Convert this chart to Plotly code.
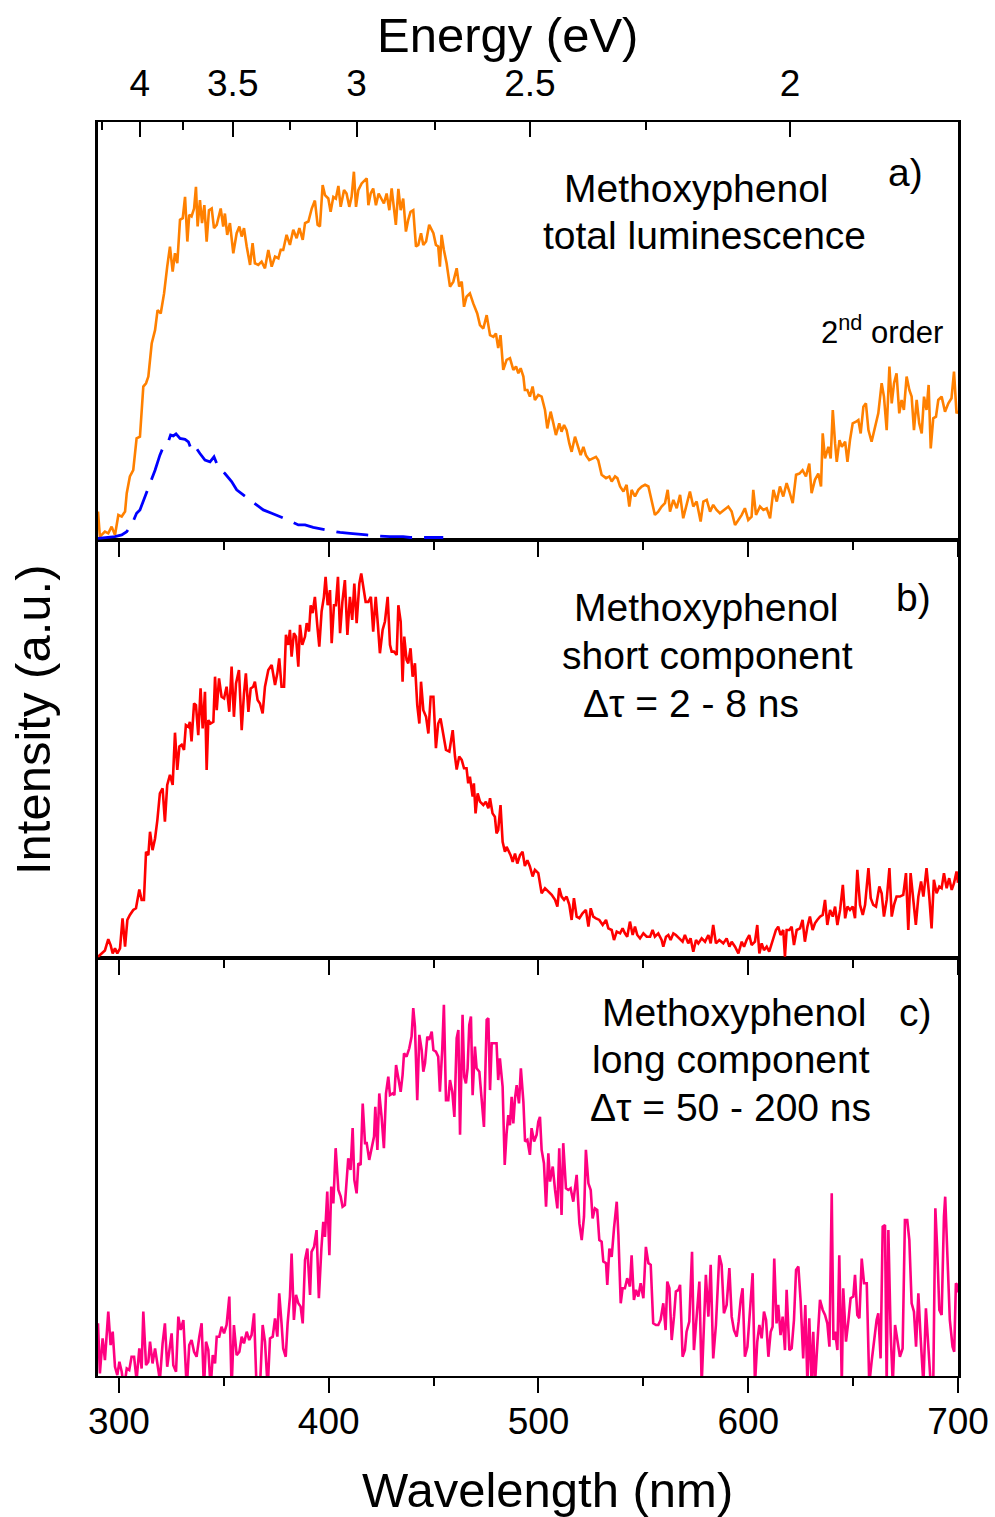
import plotly.graph_objects as go

# ---------------- data ----------------
# a) total luminescence (orange)
wl_total = [
    290.0, 290.9, 293.3, 294.9, 296.5, 298.1, 299.7, 301.3, 302.9, 303.7,
    305.2, 306.8, 308.4, 310.0, 311.6, 312.9, 314.0, 315.6, 317.2, 318.4,
    319.9, 321.5, 323.0, 324.3, 325.6, 326.7, 327.8, 329.1, 330.4, 331.5,
    332.6, 333.5, 334.6, 335.8, 336.7, 337.5, 338.6, 339.6, 340.7, 341.8,
    342.9, 344.2, 345.3, 346.6, 348.5, 349.7, 350.5, 351.6, 352.9, 354.5,
    356.1, 357.4, 358.5, 359.6, 360.9, 362.5, 363.7, 364.8, 366.4, 368.0,
    369.6, 371.2, 372.8, 374.4, 376.0, 377.1, 378.3, 379.9, 381.5, 383.1,
    384.7, 386.0, 387.6, 388.7, 390.3, 391.9, 393.4, 394.7, 395.8, 397.1,
    398.2, 399.8, 400.9, 402.2, 403.4, 404.6, 405.7, 407.3, 408.5, 409.8,
    410.9, 412.0, 413.0, 414.1, 415.7, 417.3, 418.1, 418.9, 420.0, 421.2,
    422.5, 423.8, 425.2, 426.3, 427.6, 428.9, 430.0, 431.1, 432.0, 433.2,
    434.3, 435.5, 436.8, 437.9, 439.0, 440.3, 441.6, 442.7, 444.0, 445.1,
    446.4, 447.9, 449.1, 449.9, 451.1, 452.2, 453.0, 453.8, 454.9, 456.2,
    457.8, 459.4, 461.0, 462.2, 463.4, 464.5, 465.7, 467.3, 468.9, 470.8,
    472.1, 473.7, 475.3, 476.9, 478.5, 479.7, 480.8, 481.9, 483.2, 484.8,
    486.4, 488.0, 489.3, 490.4, 491.5, 492.8, 493.5, 494.7, 495.9, 497.2,
    498.3, 499.9, 501.5, 503.1, 504.2, 505.8, 507.1, 508.3, 509.9, 511.0,
    512.2, 513.4, 514.7, 515.8, 517.4, 518.5, 520.1, 521.4, 522.6, 524.2,
    525.8, 527.4, 528.5, 530.1, 532.2, 533.8, 534.9, 536.5, 537.6, 538.9,
    540.5, 542.0, 543.3, 544.4, 546.0, 547.6, 549.2, 550.8, 552.4, 553.9,
    555.5, 557.1, 558.7, 560.3, 561.6, 562.7, 564.3, 565.9, 567.5, 569.0,
    570.6, 572.2, 573.8, 575.4, 577.3, 578.6, 580.2, 581.8, 583.3, 584.9,
    586.5, 588.4, 590.5, 592.1, 593.7, 595.3, 596.9, 598.4, 600.0, 601.6,
    602.4, 603.7, 605.6, 607.2, 608.8, 610.4, 612.0, 613.6, 615.1, 616.7,
    618.3, 619.6, 621.2, 622.8, 624.4, 625.9, 627.5, 629.1, 630.2, 631.8,
    633.4, 634.7, 635.5, 636.6, 638.2, 639.3, 640.3, 641.4, 642.2, 643.5,
    644.6, 646.2, 647.3, 648.5, 649.8, 651.4, 652.5, 653.6, 654.9, 656.1,
    657.3, 658.8, 660.4, 662.0, 663.6, 664.7, 666.0, 667.3, 668.4, 669.5,
    670.7, 672.0, 673.1, 674.2, 675.5, 676.8, 677.9, 679.0, 680.3, 681.5,
    682.7, 683.8, 685.0, 686.0, 687.0, 688.2, 689.5, 690.6, 692.2, 693.8,
    695.4, 696.9, 698.1, 699.3, 700.0,
]
int_total = [
    6.8, 0.8, 2.0, 1.6, 3.2, 1.2, 6.0, 5.6, 6.8, 11.2,
    15.2, 16.7, 24.3, 24.7, 36.7, 37.5, 39.1, 47.0, 50.2, 55.0,
    54.2, 59.0, 65.4, 70.2, 64.2, 68.6, 66.2, 76.6, 77.0, 82.1,
    71.4, 77.8, 77.4, 79.3, 84.5, 75.0, 81.3, 75.8, 80.1, 71.4,
    78.9, 79.3, 74.6, 75.4, 79.3, 75.0, 78.1, 73.0, 75.8, 68.6,
    73.4, 75.0, 72.6, 74.6, 70.2, 65.8, 71.0, 66.2, 65.8, 66.6,
    65.0, 69.4, 65.4, 67.8, 67.4, 69.4, 69.4, 73.0, 70.6, 74.2,
    72.2, 74.6, 71.8, 75.8, 76.2, 79.3, 81.2, 75.4, 75.0, 84.9,
    82.5, 81.7, 78.5, 82.1, 81.7, 84.7, 79.7, 83.7, 82.9, 79.7,
    82.1, 88.1, 79.7, 83.7, 85.3, 86.1, 86.5, 80.1, 82.9, 84.1,
    80.1, 82.9, 81.7, 80.5, 82.9, 78.9, 84.1, 78.9, 75.4, 84.0,
    78.9, 81.7, 73.8, 76.6, 78.5, 78.9, 70.2, 70.6, 73.4, 70.6,
    71.4, 75.4, 74.2, 73.4, 70.6, 70.2, 65.4, 73.0, 69.4, 66.2,
    60.6, 61.8, 65.0, 60.6, 61.8, 55.8, 58.2, 59.0, 56.6, 54.2,
    51.4, 50.6, 53.8, 49.0, 48.6, 49.4, 45.9, 49.0, 40.7, 43.1,
    43.5, 40.7, 41.5, 39.9, 41.1, 39.1, 35.9, 35.9, 34.3, 36.7,
    33.5, 34.7, 34.3, 31.1, 26.7, 30.7, 27.9, 25.1, 27.9, 25.9,
    27.5, 26.3, 23.1, 21.1, 24.7, 22.7, 20.3, 22.3, 20.3, 19.1,
    19.5, 19.9, 19.1, 15.6, 14.8, 15.2, 14.0, 15.2, 14.8, 12.8,
    11.6, 13.2, 8.0, 12.0, 10.4, 12.0, 12.8, 13.2, 12.8, 9.2,
    6.0, 6.8, 8.0, 8.8, 12.0, 6.8, 9.6, 7.6, 10.8, 5.2,
    8.4, 11.6, 8.0, 9.2, 4.4, 9.2, 9.6, 6.8, 8.4, 7.2,
    6.4, 7.2, 8.0, 6.8, 3.6, 4.8, 6.0, 7.6, 4.8, 5.6,
    12.0, 6.0, 8.0, 7.2, 7.6, 5.2, 12.0, 9.2, 12.8, 10.4,
    13.6, 11.6, 8.8, 15.6, 15.9, 16.7, 15.2, 18.3, 11.2, 14.4,
    15.9, 12.8, 25.5, 19.5, 22.3, 19.5, 31.1, 23.1, 18.7, 23.9,
    22.3, 23.5, 18.7, 23.9, 27.9, 28.3, 28.7, 25.5, 31.9, 32.7,
    26.3, 23.5, 26.7, 30.3, 37.5, 34.3, 26.3, 41.5, 32.7, 37.5,
    39.9, 30.3, 33.5, 31.1, 39.1, 35.9, 34.3, 26.3, 33.5, 27.9,
    25.5, 34.3, 31.1, 37.1, 21.9, 29.1, 29.5, 33.5, 34.3, 30.7,
    32.7, 33.9, 40.3, 30.3, 31.0,
]

# a) dashed blue curve
wl_dashed = [
    290.0, 294.1, 298.1, 301.3, 303.7, 306.0, 308.4, 310.0, 312.4, 314.8,
    317.2, 319.5, 321.5, 323.5, 324.6, 325.9, 327.2, 329.1, 331.5, 333.1,
    334.6, 335.8, 337.0, 338.6, 341.0, 343.4, 345.3, 346.6, 348.1, 350.5,
    353.7, 356.1, 359.3, 362.5, 365.6, 368.8, 372.8, 376.8, 381.5, 385.5,
    388.7, 392.6, 397.4, 402.2, 405.4, 410.1, 413.3, 418.1, 422.8, 429.2,
    435.5, 438.7, 445.1, 449.8, 454.6,
]
int_dashed = [
    0.4, 0.6, 0.8, 1.2, 2.0, 3.6, 6.4, 7.2, 10.4, 13.6,
    16.7, 20.3, 22.7, 23.5, 25.1, 24.9, 25.4, 24.3, 24.1, 23.5,
    21.5, 22.3, 21.9, 20.7, 19.1, 18.7, 19.9, 18.3, 17.1, 15.9,
    14.0, 12.0, 10.8, 9.6, 8.4, 7.2, 6.4, 5.6, 4.6, 3.6,
    3.6, 3.0, 2.6, 2.2, 1.8, 1.6, 1.4, 1.2, 1.0, 0.8,
    0.8, 0.6, 0.6, 0.6, 0.6,
]

# b) short component (red)
wl_short = [
    290.0, 291.7, 293.3, 294.9, 296.0, 297.0, 298.1, 299.2, 300.5, 301.7,
    302.9, 304.0, 305.2, 306.8, 308.1, 309.7, 310.8, 311.9, 312.9, 314.0,
    314.8, 316.0, 317.2, 318.3, 319.5, 320.8, 321.9, 323.0, 324.3, 325.6,
    326.7, 327.8, 328.8, 329.9, 331.0, 331.9, 333.1, 333.8, 334.6, 335.8,
    336.7, 337.8, 338.9, 339.9, 341.0, 341.8, 342.6, 343.7, 345.0, 345.8,
    346.6, 347.7, 348.9, 350.1, 351.3, 352.6, 353.7, 354.8, 355.8, 357.2,
    358.5, 359.6, 360.5, 361.7, 362.8, 364.0, 364.8, 366.1, 367.2, 368.5,
    369.6, 371.2, 372.8, 374.4, 375.5, 376.4, 377.5, 378.7, 379.6, 380.7,
    381.5, 382.3, 383.4, 384.4, 385.5, 386.3, 387.4, 388.7, 389.5, 390.6,
    391.4, 392.3, 393.4, 394.6, 395.5, 396.6, 397.7, 398.5, 399.5, 400.6,
    401.4, 402.5, 403.4, 404.4, 405.4, 406.5, 407.7, 408.9, 410.1, 411.2,
    412.2, 413.3, 414.6, 415.5, 416.5, 417.6, 418.9, 420.1, 421.2, 422.4,
    423.5, 424.4, 425.7, 426.8, 428.1, 429.2, 430.0, 431.1, 432.4, 433.2,
    434.3, 435.2, 436.0, 437.1, 437.9, 439.0, 440.0, 441.1, 442.2, 443.2,
    444.0, 445.1, 446.4, 447.5, 448.6, 449.9, 451.1, 452.2, 453.3, 454.6,
    455.9, 457.5, 459.1, 460.2, 461.0, 462.2, 463.4, 464.5, 465.7, 466.5,
    467.3, 468.6, 469.2, 470.0, 471.0, 472.1, 473.7, 474.9, 476.1, 476.9,
    478.1, 479.2, 480.0, 480.8, 481.9, 482.9, 484.0, 484.8, 485.6, 486.7,
    487.7, 488.8, 489.9, 491.2, 492.4, 493.5, 494.7, 495.9, 497.2, 498.3,
    499.9, 501.5, 503.1, 504.7, 506.3, 507.9, 509.0, 509.9, 511.0, 512.2,
    513.4, 514.7, 515.8, 516.9, 518.2, 519.5, 521.0, 522.6, 523.8, 524.9,
    526.1, 527.4, 529.0, 530.6, 532.2, 533.3, 534.9, 536.0, 537.3, 538.9,
    540.1, 541.2, 542.3, 543.6, 544.9, 546.0, 547.1, 548.4, 550.0, 551.6,
    553.2, 554.4, 555.5, 557.1, 558.7, 559.5, 560.8, 561.9, 563.0, 564.3,
    565.5, 567.1, 568.7, 569.8, 571.4, 572.5, 573.8, 575.1, 576.2, 577.8,
    579.4, 581.0, 582.1, 583.3, 584.6, 586.2, 588.1, 589.7, 591.0, 592.1,
    593.7, 595.3, 596.9, 598.0, 599.2, 600.5, 601.6, 603.2, 604.3, 605.3,
    606.4, 607.5, 608.8, 610.0, 611.6, 613.2, 614.3, 615.4, 616.7, 617.5,
    618.3, 619.6, 620.7, 621.8, 623.1, 624.7, 625.9, 627.0, 628.2, 629.4,
    630.7, 631.8, 632.9, 634.2, 635.5, 636.6, 637.7, 639.0, 640.3, 641.4,
    642.5, 643.8, 645.1, 646.2, 647.3, 648.5, 649.8, 650.9, 652.0, 653.3,
    654.6, 655.7, 657.3, 658.4, 659.6, 660.9, 662.5, 663.6, 664.7, 666.0,
    667.3, 668.4, 669.5, 670.7, 672.3, 673.9, 675.2, 676.3, 677.4, 678.7,
    679.9, 681.1, 682.4, 683.5, 685.0, 686.3, 687.4, 688.5, 689.8, 691.1,
    692.2, 693.3, 694.6, 695.8, 697.0, 698.1, 699.3, 700.0,
]
int_short = [
    0.3, 1.1, 1.8, 4.5, 3.1, 1.1, 2.3, 1.1, 2.3, 9.5,
    2.7, 9.1, 10.3, 11.5, 11.9, 16.4, 13.9, 13.9, 25.4, 24.6,
    30.2, 25.8, 28.6, 33.0, 39.4, 40.6, 32.6, 41.4, 43.8, 41.4,
    53.9, 45.0, 50.6, 51.0, 49.8, 55.7, 55.3, 56.5, 51.8, 60.9,
    60.5, 53.3, 64.5, 54.9, 63.7, 45.0, 56.9, 56.1, 56.5, 67.3,
    59.3, 66.9, 62.5, 62.1, 64.9, 58.9, 69.7, 57.7, 65.7, 68.9,
    54.5, 63.3, 68.1, 58.9, 64.5, 64.9, 66.1, 61.7, 60.9, 58.5,
    64.9, 68.9, 70.1, 65.3, 68.1, 71.7, 64.9, 64.9, 77.3, 74.9,
    78.5, 72.1, 77.7, 76.9, 69.7, 79.7, 74.9, 76.9, 80.1, 78.1,
    84.4, 82.5, 86.4, 79.3, 74.5, 82.9, 86.4, 91.2, 84.4, 88.0,
    75.3, 84.4, 84.4, 91.2, 77.7, 85.2, 90.4, 77.3, 86.4, 80.9,
    89.6, 80.1, 89.6, 92.0, 89.2, 85.2, 85.2, 86.4, 78.1, 86.4,
    79.3, 72.9, 78.5, 80.5, 86.4, 74.9, 73.3, 73.3, 72.5, 84.4,
    80.5, 66.1, 76.9, 71.3, 70.5, 74.1, 67.3, 70.5, 60.5, 56.1,
    66.1, 59.3, 57.7, 53.7, 62.5, 62.5, 50.2, 56.1, 57.3, 53.0,
    49.8, 49.4, 54.5, 48.2, 45.1, 48.2, 47.4, 45.4, 45.4, 41.8,
    43.4, 38.6, 41.8, 34.6, 39.4, 37.4, 36.6, 37.4, 35.8, 38.2,
    34.6, 33.8, 29.8, 30.6, 36.6, 27.8, 25.4, 26.6, 25.8, 24.6,
    23.0, 25.0, 22.6, 24.6, 25.4, 22.0, 23.4, 21.9, 19.5, 21.1,
    20.3, 15.5, 16.7, 15.9, 15.1, 13.9, 12.3, 16.7, 14.7, 13.9,
    14.7, 12.7, 9.1, 14.3, 9.9, 9.5, 10.7, 11.5, 7.5, 11.9,
    9.9, 9.5, 9.1, 7.9, 9.1, 7.1, 6.7, 4.3, 6.3, 5.9,
    7.1, 5.9, 5.1, 8.7, 5.5, 7.5, 5.5, 4.7, 5.9, 5.1,
    5.1, 6.7, 5.1, 5.9, 4.3, 2.7, 5.1, 5.5, 4.3, 5.9,
    5.5, 4.7, 3.9, 5.5, 3.5, 4.7, 1.5, 4.3, 3.5, 4.7,
    3.9, 5.5, 3.5, 7.9, 3.5, 4.3, 3.5, 4.7, 2.7, 3.9,
    2.7, 1.1, 3.9, 2.7, 4.3, 5.5, 3.1, 3.9, 7.9, 1.1,
    3.5, 1.9, 2.7, 1.5, 3.9, 6.7, 7.5, 5.5, 6.7, 0.3,
    6.7, 6.7, 7.5, 3.1, 6.7, 7.1, 9.1, 3.9, 7.5, 9.9,
    6.7, 8.3, 9.1, 9.9, 10.3, 13.9, 7.9, 11.5, 9.9, 12.3,
    7.9, 11.5, 17.5, 9.5, 12.3, 11.5, 12.3, 9.5, 21.1, 12.7,
    10.3, 12.7, 21.5, 14.3, 12.7, 12.3, 17.1, 15.5, 9.9, 13.9,
    21.5, 9.9, 12.7, 14.7, 14.7, 15.1, 20.3, 6.7, 20.3, 13.9,
    7.9, 14.7, 18.3, 14.7, 21.5, 14.7, 7.1, 18.7, 15.5, 17.1,
    16.7, 20.3, 16.7, 19.1, 16.3, 17.9, 20.7, 18.0,
]

# c) long component (pink)
wl_long = [
    290.0, 290.9, 292.2, 293.3, 294.9, 296.0, 297.0, 298.1, 299.2, 300.2,
    301.3, 302.4, 303.7, 304.9, 306.0, 307.2, 308.4, 309.7, 310.8, 311.6,
    312.9, 314.0, 314.8, 316.0, 317.2, 318.3, 319.5, 320.8, 321.9, 323.0,
    324.0, 325.1, 325.9, 327.2, 328.3, 329.4, 330.7, 332.3, 333.5, 334.6,
    335.8, 337.0, 338.3, 339.4, 340.5, 341.5, 342.6, 343.7, 344.7, 345.8,
    346.6, 347.8, 348.9, 350.1, 351.3, 352.6, 353.7, 354.8, 356.1, 357.4,
    358.5, 359.6, 360.9, 362.1, 363.2, 364.4, 365.6, 367.2, 368.5, 369.6,
    370.9, 372.0, 373.3, 374.4, 375.5, 376.4, 377.5, 378.3, 379.5, 380.4,
    381.5, 382.3, 383.4, 384.4, 385.5, 386.6, 387.6, 388.7, 389.8, 391.1,
    391.8, 393.0, 394.2, 395.3, 396.5, 397.4, 398.2, 399.3, 400.3, 401.2,
    402.2, 403.3, 404.6, 405.7, 406.6, 407.7, 409.3, 410.4, 411.4, 412.2,
    413.3, 414.1, 415.2, 416.2, 417.3, 418.1, 419.3, 420.5, 421.6, 422.2,
    423.2, 424.1, 425.2, 426.3, 427.3, 428.4, 429.2, 430.5, 431.3, 432.1,
    433.2, 434.3, 435.2, 435.9, 437.1, 438.4, 439.5, 440.3, 441.1, 442.2,
    443.2, 444.3, 445.1, 445.9, 447.0, 447.9, 449.1, 449.9, 451.1, 452.2,
    453.0, 454.1, 454.9, 455.9, 457.0, 457.8, 458.9, 459.9, 461.0, 461.8,
    462.6, 463.8, 464.6, 465.4, 466.2, 467.0, 467.8, 468.6, 469.7, 470.5,
    471.8, 472.9, 474.0, 475.3, 476.1, 476.9, 477.7, 478.8, 480.0, 480.8,
    481.6, 482.9, 483.9, 484.8, 485.6, 486.4, 487.2, 488.0, 488.8, 489.6,
    490.7, 491.6, 492.8, 493.6, 494.7, 495.9, 496.7, 497.9, 499.1, 499.9,
    500.7, 501.5, 502.6, 503.6, 504.7, 505.5, 506.8, 507.9, 509.0, 509.9,
    511.0, 511.8, 513.1, 514.2, 515.3, 516.6, 518.2, 519.5, 520.6, 521.7,
    522.6, 523.8, 524.9, 525.8, 526.9, 528.0, 529.0, 530.1, 530.9, 532.2,
    532.8, 533.8, 534.9, 536.0, 537.3, 538.1, 539.2, 540.1, 541.2, 542.3,
    543.6, 544.4, 545.5, 546.5, 547.6, 548.7, 550.0, 551.2, 552.4, 553.5,
    554.7, 556.0, 557.1, 558.2, 559.5, 560.6, 561.4, 562.4, 563.5, 564.6,
    565.5, 566.7, 567.5, 568.7, 569.8, 570.6, 571.9, 573.2, 574.1, 575.4,
    576.7, 577.8, 578.6, 579.8, 581.0, 582.1, 583.3, 584.6, 586.2, 587.3,
    588.4, 589.7, 591.0, 592.1, 593.2, 594.5, 595.4, 596.4, 597.3, 598.4,
    599.6, 600.8, 602.1, 603.2, 604.3, 605.3, 606.4, 607.5, 608.5, 609.6,
    610.7, 611.6, 612.4, 613.5, 614.3, 615.4, 616.4, 617.5, 618.3, 619.6,
    620.7, 621.8, 622.8, 623.9, 625.0, 626.2, 627.2, 628.2, 629.1, 630.2,
    631.0, 631.8, 632.9, 634.2, 635.5, 636.6, 637.7, 638.7, 639.8, 640.6,
    641.4, 642.5, 643.4, 644.6, 645.3, 646.6, 647.7, 648.8, 650.1, 650.9,
    652.0, 653.0, 654.1, 655.2, 656.5, 657.7, 658.8, 660.0, 661.2, 662.0,
    663.1, 664.1, 665.2, 666.0, 666.8, 667.9, 668.9, 670.0, 671.1, 672.3,
    673.6, 674.7, 675.8, 676.8, 677.9, 679.0, 680.0, 681.1, 682.2, 683.5,
    684.7, 685.8, 687.0, 688.2, 689.2, 690.1, 691.1, 692.2, 693.3, 693.9,
    695.0, 696.1, 697.4, 698.2, 699.0, 699.6, 700.0,
]
int_long = [
    12.6, 0.6, 9.0, 3.8, 15.4, 7.4, 10.6, 2.2, 0.2, 3.4,
    1.0, -3.0, 1.8, 1.4, 4.6, 4.6, -1.0, 6.6, 1.8, 15.4,
    2.6, 3.4, 8.2, 3.0, 6.6, 3.0, -1.0, 7.8, 12.6, 2.2,
    6.2, 10.2, 2.6, 1.0, 14.2, 11.0, 13.4, -3.0, 7.4, 8.6,
    5.8, 4.6, 9.4, 12.6, -3.0, 8.2, 6.2, -3.0, 5.0, 3.0,
    9.4, 9.4, 11.8, 10.2, 12.2, 19.0, -3.0, 12.2, 5.0, 5.8,
    9.4, 7.8, 10.6, 8.6, 9.8, 15.0, -3.0, -3.0, 12.2, 8.2,
    -3.0, 9.0, 9.4, 13.8, 9.4, 19.8, 12.6, 6.6, 4.6, 12.6,
    19.0, 29.3, 13.4, 19.4, 17.4, 16.6, 12.6, 27.8, 30.5, 19.4,
    29.7, 30.9, 34.9, 18.6, 30.5, 36.9, 33.3, 44.1, 28.9, 45.3,
    41.3, 54.5, 44.5, 42.9, 40.5, 40.9, 52.1, 49.3, 59.3, 46.9,
    43.7, 50.9, 50.5, 65.2, 55.7, 55.7, 51.7, 54.5, 57.3, 64.4,
    54.1, 67.6, 62.0, 54.5, 67.6, 71.6, 67.2, 67.6, 67.2, 74.4,
    71.2, 68.0, 72.0, 77.2, 76.4, 78.4, 81.2, 88.0, 83.6, 66.0,
    81.6, 78.0, 72.8, 74.8, 81.2, 80.4, 82.4, 78.0, 77.6, 76.4,
    68.0, 78.0, 88.8, 66.0, 66.0, 70.8, 68.0, 62.0, 80.8, 82.8,
    57.7, 86.4, 71.6, 70.0, 73.6, 84.0, 86.0, 67.2, 78.8, 73.6,
    72.8, 66.0, 59.6, 85.2, 85.6, 68.4, 79.6, 79.6, 79.6, 70.8,
    76.0, 69.2, 50.5, 58.1, 62.4, 60.0, 66.8, 60.4, 66.4, 69.6,
    65.2, 73.6, 65.6, 56.1, 56.5, 52.9, 59.3, 56.1, 57.7, 60.8,
    62.0, 54.1, 50.9, 40.5, 53.3, 46.5, 50.1, 44.5, 40.1, 54.5,
    38.5, 55.7, 44.9, 44.5, 44.9, 41.7, 48.1, 36.5, 32.5, 38.1,
    54.1, 46.1, 44.5, 37.7, 40.1, 39.7, 32.5, 32.1, 27.4, 27.0,
    21.8, 30.5, 28.5, 35.3, 41.7, 33.7, 17.4, 21.0, 21.0, 23.4,
    21.4, 28.9, 18.2, 20.6, 19.0, 22.2, 18.6, 30.9, 27.0, 26.6,
    12.6, 12.2, 12.2, 13.4, 17.4, 11.0, 22.6, 21.0, 8.6, 14.2,
    20.2, 20.6, 21.8, 4.6, 6.2, 10.6, 13.0, 29.7, 6.2, 14.2,
    22.6, -2.0, 10.2, 24.2, 14.2, 26.6, 4.2, 12.2, 28.9, 26.6,
    15.0, 17.0, 25.8, 14.2, 11.0, 9.4, 13.0, 18.2, 21.0, 4.6,
    7.0, 15.4, 24.6, -2.0, 8.2, 12.2, 9.0, 15.4, 13.4, 4.6,
    10.6, 11.8, 28.1, 12.6, 17.0, 9.8, 14.2, 6.2, 20.6, 6.2,
    6.6, 13.4, 25.4, 26.2, 17.8, 4.2, 17.0, -2.0, 13.8, -2.0,
    10.6, -2.0, 8.6, 18.2, 15.8, 14.6, 12.6, 7.0, 43.7, 8.6,
    10.6, 6.2, 28.9, -2.0, 21.0, 8.2, 13.0, 18.6, 19.0, 24.2,
    14.6, 13.8, 28.1, 22.2, 22.2, -2.0, 3.4, 9.0, 13.4, 15.0,
    4.2, 35.7, 36.1, -2.0, 34.9, 10.2, -2.0, 12.2, 9.0, 4.6,
    6.6, 37.3, 37.3, 32.5, 17.4, 15.4, 7.0, 19.8, 9.0, -2.0,
    16.2, 6.6, -2.0, -2.0, 40.1, 30.1, 15.8, 14.6, 38.1, 42.9,
    28.1, 13.4, 7.0, 5.8, 22.2, 21.8, 20.0,
]

wl_major = [300, 400, 500, 600, 700]
wl_minor = [350, 450, 550, 650]
wl_labels = ["300", "400", "500", "600", "700"]
energy_major = [4, 3.5, 3, 2.5, 2]
energy_minor = [4.25, 3.75, 3.25, 2.75, 2.25]
energy_labels = ["4", "3.5", "3", "2.5", "2"]

assert len(wl_total) == len(int_total)
assert len(wl_dashed) == len(int_dashed)
assert len(wl_short) == len(int_short)
assert len(wl_long) == len(int_long)

HC = 1239.84  # eV*nm
FONT = "Arial, Liberation Sans, sans-serif"

# ---------------- figure ----------------
fig = go.Figure()
fig.add_trace(go.Scatter(x=wl_total, y=int_total, xaxis="x3", yaxis="y3", mode="lines",
                         line=dict(color="#FF8000", width=2.6), showlegend=False))
fig.add_trace(go.Scatter(x=wl_dashed, y=int_dashed, xaxis="x3", yaxis="y3", mode="lines",
                         line=dict(color="#0000FF", width=2.8, dash="32px,12px"), showlegend=False))
fig.add_trace(go.Scatter(x=wl_short, y=int_short, xaxis="x2", yaxis="y2", mode="lines",
                         line=dict(color="#FF0000", width=2.6), showlegend=False))
fig.add_trace(go.Scatter(x=wl_long, y=int_long, xaxis="x", yaxis="y", mode="lines",
                         line=dict(color="#FF0080", width=2.6), showlegend=False))
# carrier trace for the top energy axis
fig.add_trace(go.Scatter(x=[HC / e for e in energy_major], y=[None] * len(energy_major),
                         xaxis="x4", yaxis="y3", mode="lines", showlegend=False, hoverinfo="skip"))


def xaxis_common(anchor, labels):
    return dict(
        anchor=anchor, domain=[0, 1], range=[290, 700], automargin=False,
        showgrid=False, zeroline=False,
        showline=True, linecolor="black", linewidth=2.2, mirror=True,
        ticks="outside", tickmode="array", tickvals=wl_major, ticktext=wl_labels,
        ticklen=15, tickwidth=2.2, tickcolor="black",
        minor=dict(tickvals=wl_minor, ticks="outside", ticklen=8, tickwidth=2.2, tickcolor="black"),
        showticklabels=labels,
        tickfont=dict(family=FONT, size=37, color="black"),
        ticklabelstandoff=-4,
    )


def yaxis_common(anchor, domain):
    return dict(
        anchor=anchor, domain=domain, range=[0, 100], automargin=False,
        showgrid=False, zeroline=False, showline=True, linecolor="black",
        linewidth=2.5, mirror=True, ticks="", showticklabels=False,
    )


third = 1.0 / 3.0
fig.update_layout(
    width=995, height=1517, autosize=False,
    margin=dict(l=98, r=37, t=122, b=141, pad=0, autoexpand=False),
    paper_bgcolor="white", plot_bgcolor="white",
    font=dict(family=FONT, color="black"),
    xaxis=xaxis_common("y", True),
    xaxis2=xaxis_common("y2", False),
    xaxis3=xaxis_common("y3", False),
    xaxis4=dict(
        overlaying="x3", anchor="y3", side="top", range=[290, 700], automargin=False,
        showgrid=False, zeroline=False, showline=False,
        tickmode="array", tickvals=[HC / e for e in energy_major], ticktext=energy_labels,
        ticks="inside", ticklen=15, tickwidth=2.2, tickcolor="black",
        minor=dict(tickvals=[HC / e for e in energy_minor], ticks="inside", ticklen=8,
                   tickwidth=2.2, tickcolor="black"),
        tickfont=dict(family=FONT, size=37, color="black"),
        ticklabelstandoff=18,
    ),
    yaxis=yaxis_common("x", [0, third]),
    yaxis2=yaxis_common("x2", [third, 2 * third]),
    yaxis3=yaxis_common("x3", [2 * third, 1]),
)

ann_font = dict(family=FONT, size=39, color="black")
title_font = dict(family=FONT, size=49, color="black")
annotations = [
    # axis titles
    dict(text="Energy (eV)", x=0.4756, y=1.0694, font=title_font),
    dict(text="Wavelength (nm)", x=0.5221, y=-0.0909, font=title_font),
    dict(text="Intensity (a.u.)", x=-0.0756, y=0.5231, textangle=-90, font=title_font),
    # panel a
    dict(text="Methoxyphenol", x=0.6965, y=0.9466, font=ann_font),
    dict(text="total luminescence", x=0.7047, y=0.9091, font=ann_font),
    dict(text="a)", x=0.9384, y=0.9601, font=ann_font),
    dict(text="2<sup>nd</sup> order", x=0.9116, y=0.8345, font=dict(family=FONT, size=31, color="black")),
    # panel b
    dict(text="Methoxyphenol", x=0.7081, y=0.6132, font=ann_font),
    dict(text="short component", x=0.7093, y=0.5742, font=ann_font),
    dict(text="\u0394\u03c4 = 2 - 8 ns", x=0.6890, y=0.5359, font=ann_font),
    dict(text="b)", x=0.9477, y=0.6212, font=ann_font),
    # panel c
    dict(text="Methoxyphenol", x=0.7401, y=0.2895, font=ann_font),
    dict(text="c)", x=0.9500, y=0.2895, font=ann_font),
    dict(text="long component", x=0.7355, y=0.2520, font=ann_font),
    dict(text="\u0394\u03c4 = 50 - 200 ns", x=0.7349, y=0.2145, font=ann_font),
]
for a in annotations:
    a.update(xref="paper", yref="paper", showarrow=False, xanchor="center", yanchor="middle")
fig.update_layout(annotations=annotations)

fig.write_html("out.html")
